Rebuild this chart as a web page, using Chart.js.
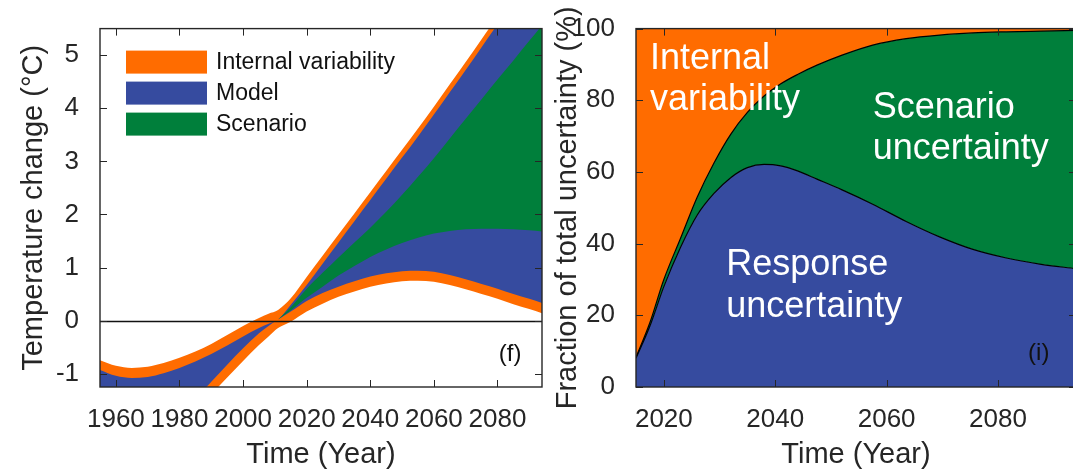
<!DOCTYPE html>
<html>
<head>
<meta charset="utf-8">
<script src="https://cdn.jsdelivr.net/npm/chart.js@4.4.1/dist/chart.umd.min.js"></script>
<style>
  html, body { margin: 0; padding: 0; background: #fff; overflow: hidden; width: 1073px; height: 474px; }
  .panel { position: absolute; top: 0; height: 474px; }
  #wrapL { left: 0; width: 548px; }
  #wrapR { left: 548px; width: 532px; }
</style>
</head>
<body>
<div class="panel" id="wrapL"><canvas id="tempChart" width="548" height="474"></canvas></div>
<div class="panel" id="wrapR"><canvas id="fracChart" width="532" height="474"></canvas></div>
<script>
// ---------- Panel (f): temperature change and its uncertainty envelope ----------
const tempYears = [1955, 1960, 1965, 1970, 1975, 1980, 1985, 1990, 1995, 2000, 2005, 2008, 2011,
                   2015, 2020, 2025, 2030, 2035, 2040, 2045, 2050, 2055, 2060, 2065, 2070, 2075, 2080, 2085, 2090, 2094];
// outer upper edge of the internal-variability band
const ivUpper = [-0.745, -0.85, -0.89, -0.87, -0.80, -0.70, -0.58, -0.44, -0.27, -0.10, 0.05, 0.13, 0.20,
                 0.42, 0.82, 1.22, 1.62, 2.02, 2.42, 2.82, 3.22, 3.62, 4.03, 4.45, 4.87, 5.30, 5.73, 6.17, 6.61, 6.96];
// upper edge of the model-uncertainty band
const modelUpper = [-0.93, -1.04, -1.08, -1.06, -0.99, -0.89, -0.77, -0.63, -0.47, -0.30, -0.14, -0.06, 0.02,
                    0.30, 0.67, 1.07, 1.47, 1.87, 2.27, 2.67, 3.07, 3.47, 3.88, 4.30, 4.72, 5.15, 5.58, 6.02, 6.46, 6.81];
// lower edge of the model-uncertainty band
const modelLower = [-3.40, -3.10, -2.80, -2.50, -2.15, -1.80, -1.47, -1.15, -0.83, -0.52, -0.24, -0.10, 0.02,
                    0.17, 0.37, 0.52, 0.64, 0.74, 0.83, 0.89, 0.93, 0.94, 0.92, 0.86, 0.78, 0.69, 0.60, 0.50, 0.41, 0.33];
// outer lower edge of the internal-variability band
const ivLower = [-3.65, -3.35, -3.05, -2.75, -2.40, -2.06, -1.73, -1.39, -1.07, -0.76, -0.46, -0.30, -0.14,
                 -0.02, 0.17, 0.32, 0.45, 0.55, 0.64, 0.70, 0.74, 0.75, 0.73, 0.67, 0.59, 0.50, 0.41, 0.31, 0.22, 0.14];
// scenario spread, present from the start of the projections
const scenYears = [2011, 2015, 2020, 2025, 2030, 2035, 2040, 2045, 2050, 2055, 2060, 2065, 2070, 2075, 2080, 2085, 2090, 2094];
const scenUpper = [0.02, 0.25, 0.60, 0.90, 1.19, 1.47, 1.75, 2.05, 2.37, 2.71, 3.06, 3.43, 3.80, 4.17, 4.54, 4.90, 5.27, 5.56];
const scenLower = [0.02, 0.19, 0.43, 0.64, 0.85, 1.03, 1.20, 1.34, 1.46, 1.56, 1.64, 1.69, 1.72, 1.73, 1.73, 1.72, 1.70, 1.68];

const tempXTicks = [1960, 1980, 2000, 2020, 2040, 2060, 2080];
const tempYTicks = [-1, 0, 1, 2, 3, 4, 5];
const legendLabels = ['Internal variability', 'Model', 'Scenario'];

// ---------- Panel (i): fraction of total uncertainty ----------
const fracYears = [2015, 2017.5, 2020, 2023, 2026, 2029, 2032, 2035, 2038, 2041, 2044, 2047.5,
                   2052, 2057.5, 2063.5, 2069.5, 2075.5, 2081.5, 2087.5, 2094];
const responseFrac = [8.0, 17.0, 28.0, 39.0, 48.0, 54.0, 58.4, 61.2, 62.1, 61.7, 60.3, 58.0,
                      55.0, 51.0, 46.2, 41.9, 38.4, 36.0, 34.3, 33.0];
const responseScenarioFrac = [8.3, 18.0, 30.0, 41.5, 53.0, 62.5, 70.5, 76.6, 81.2, 84.6, 87.2, 89.8,
                              92.6, 95.4, 97.2, 98.2, 98.8, 99.1, 99.3, 99.5];
const fracTop = fracYears.map(() => 100);

const fracXTicks = [2020, 2040, 2060, 2080];
const fracYTicks = [0, 20, 40, 60, 80, 100];

const ORANGE = '#ff6c00';
const BLUE = '#364b9f';
const GREEN = '#007f3b';
const INK = '#262626';
const FONT = '"Liberation Sans", Arial, Helvetica, sans-serif';

const pts = (xs, ys) => xs.map((x, i) => ({ x, y: ys[i] }));

function band(data, color, fillTarget) {
  return {
    data,
    fill: fillTarget === undefined ? false : fillTarget,
    backgroundColor: color,
    borderColor: 'rgba(0,0,0,0)',
    borderWidth: 0,
    pointRadius: 0,
    cubicInterpolationMode: 'monotone'
  };
}

// Box frame with inward tick marks on all four sides, plus panel decorations
const framePlugin = {
  id: 'frame',
  afterDatasetsDraw(chart, args, opts) {
    const { ctx, chartArea: a, scales: { x, y } } = chart;
    ctx.save();
    if (opts.zeroLine) {
      const py = Math.round(y.getPixelForValue(0)) + 0.5;
      ctx.strokeStyle = '#111';
      ctx.lineWidth = 1.4;
      ctx.beginPath(); ctx.moveTo(a.left, py); ctx.lineTo(a.right, py); ctx.stroke();
    }
    ctx.strokeStyle = INK;
    ctx.lineWidth = 1;
    const tl = 7;
    ctx.beginPath();
    x.ticks.forEach(t => {
      const px = Math.round(x.getPixelForValue(t.value)) + 0.5;
      ctx.moveTo(px, a.bottom); ctx.lineTo(px, a.bottom - tl);
      ctx.moveTo(px, a.top); ctx.lineTo(px, a.top + tl);
    });
    y.ticks.forEach(t => {
      const py = Math.round(y.getPixelForValue(t.value)) + 0.5;
      ctx.moveTo(a.left, py); ctx.lineTo(a.left + tl, py);
      ctx.moveTo(a.right, py); ctx.lineTo(a.right - tl, py);
    });
    ctx.stroke();
    ctx.lineWidth = 1.4;
    ctx.strokeRect(a.left, a.top, a.right - a.left, a.bottom - a.top);

    // legend
    if (opts.legend) {
      const L = opts.legend;
      ctx.font = '23px ' + FONT;
      ctx.textBaseline = 'middle';
      ctx.textAlign = 'left';
      L.labels.forEach((lab, i) => {
        const top = a.top + 22 + i * 31;
        ctx.fillStyle = L.colors[i];
        ctx.fillRect(a.left + 26, top, 81, 23);
        ctx.fillStyle = '#111';
        ctx.fillText(lab, a.left + 116, top + 12.5);
      });
    }
    // text labels placed in data coordinates
    (opts.texts || []).forEach(t => {
      ctx.font = t.size + 'px ' + FONT;
      ctx.fillStyle = t.color;
      ctx.textAlign = 'left';
      ctx.textBaseline = 'alphabetic';
      ctx.fillText(t.text, x.getPixelForValue(t.x), y.getPixelForValue(t.y));
    });
    ctx.restore();
  }
};

function axisX(min, max, ticks, titlePad) {
  return {
    type: 'linear', min, max,
    afterBuildTicks: s => { s.ticks = ticks.map(v => ({ value: v })); },
    afterFit: s => { s.height = 87; },
    grid: { display: false },
    border: { display: false },
    ticks: { color: INK, padding: 9, maxRotation: 0, autoSkip: false,
             font: { family: FONT, size: 26 }, callback: v => String(v) },
    title: { display: true, text: 'Time (Year)', color: INK,
             font: { family: FONT, size: 29 }, padding: { top: 0, bottom: titlePad } }
  };
}

function axisY(min, max, ticks, width, title, titlePad) {
  return {
    type: 'linear', min, max,
    afterBuildTicks: s => { s.ticks = ticks.map(v => ({ value: v })); },
    afterFit: s => { s.width = width; },
    grid: { display: false },
    border: { display: false },
    ticks: { color: INK, padding: 13, autoSkip: false,
             font: { family: FONT, size: 26 }, callback: v => String(v) },
    title: { display: true, text: title, color: INK,
             font: { family: FONT, size: 29 }, padding: { top: titlePad, bottom: 0 } }
  };
}

Chart.defaults.animation = false;

new Chart(document.getElementById('tempChart'), {
  type: 'line',
  data: {
    datasets: [
      band(pts(scenYears, scenUpper), GREEN, 1),
      band(pts(scenYears, scenLower), GREEN),
      band(pts(tempYears, modelUpper), BLUE, 3),
      band(pts(tempYears, modelLower), BLUE),
      band(pts(tempYears, ivUpper), ORANGE, 5),
      band(pts(tempYears, ivLower), ORANGE)
    ]
  },
  options: {
    responsive: false,
    devicePixelRatio: 1,
    layout: { padding: { top: 24, right: 6, left: 0, bottom: 0 } },
    scales: {
      x: axisX(1955, 2094, tempXTicks, 2),
      y: axisY(-1.25, 5.5, tempYTicks, 100, 'Temperature change (°C)', 17)
    },
    plugins: {
      legend: { display: false },
      tooltip: { enabled: false },
      filler: { drawTime: 'beforeDatasetsDraw' },
      frame: {
        zeroLine: true,
        legend: { labels: legendLabels, colors: [ORANGE, BLUE, GREEN] },
        texts: [{ text: '(f)', x: 2080.4, y: -0.76, size: 24, color: '#111' }]
      }
    }
  },
  plugins: [framePlugin]
});

new Chart(document.getElementById('fracChart'), {
  type: 'line',
  data: {
    datasets: [
      { data: pts(fracYears, responseScenarioFrac), fill: 1, backgroundColor: GREEN,
        borderColor: '#000', borderWidth: 1.2, pointRadius: 0, cubicInterpolationMode: 'monotone' },
      { data: pts(fracYears, responseFrac), fill: 'origin', backgroundColor: BLUE,
        borderColor: '#000', borderWidth: 1.2, pointRadius: 0, cubicInterpolationMode: 'monotone' },
      band(pts(fracYears, fracTop), ORANGE, 0)
    ]
  },
  options: {
    responsive: false,
    devicePixelRatio: 1,
    layout: { padding: { top: 24, right: 4, left: 0, bottom: 0 } },
    scales: {
      x: axisX(2015, 2094, fracXTicks, 2),
      y: axisY(0, 100, fracYTicks, 88, 'Fraction of total uncertainty (%)', 3)
    },
    plugins: {
      legend: { display: false },
      tooltip: { enabled: false },
      filler: { drawTime: 'beforeDatasetsDraw' },
      frame: {
        texts: [
          { text: 'Internal', x: 2017.5, y: 88.7, size: 36, color: '#fff' },
          { text: 'variability', x: 2017.5, y: 77.4, size: 36, color: '#fff' },
          { text: 'Scenario', x: 2057.5, y: 75.1, size: 36, color: '#fff' },
          { text: 'uncertainty', x: 2057.5, y: 63.7, size: 36, color: '#fff' },
          { text: 'Response', x: 2031.2, y: 31.2, size: 36, color: '#fff' },
          { text: 'uncertainty', x: 2031.2, y: 19.6, size: 36, color: '#fff' },
          { text: '(i)', x: 2085.4, y: 7.5, size: 24, color: '#111' }
        ]
      }
    }
  },
  plugins: [framePlugin]
});
</script>
</body>
</html>
